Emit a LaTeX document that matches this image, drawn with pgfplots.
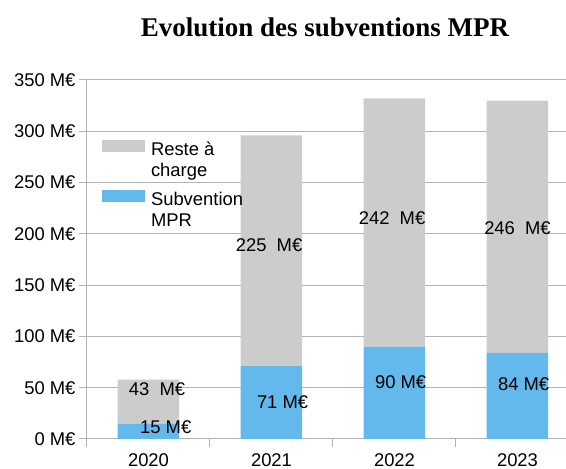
\documentclass[border=0pt]{standalone}
\usepackage{fontspec}
\setmainfont{Liberation Sans}
\newfontfamily\titlefont{Liberation Serif}
\usepackage{pgfplots}
\usepackage{pgfplotstable}
\pgfplotsset{compat=1.18}
\definecolor{mprblue}{HTML}{63B8EC}
\definecolor{restegray}{HTML}{CCCCCC}
\definecolor{gridgray}{HTML}{B3B3B3}

\pgfplotstableread{
x sub reste
0 15 43
1 71 225
2 90 242
3 84 246
}\datatable

\pgfplotstableread[col sep=comma]{
x,y,label
0.07,48.7,43~~M€
0.14,11.7,15~M€
0.98,189,225~~M€
1.09,36,71~M€
1.98,215.5,242~~M€
2.05,55.6,90~M€
3.00,205.7,246~~M€
3.05,53.6,84~M€
}\labeltable

\newcommand{\lblfont}{\fontsize{18.4}{21}\selectfont}

\begin{document}
\begin{tikzpicture}[x=1pt,y=1pt]
\begin{axis}[
  at={(0,0)}, anchor=south west,
  scale only axis, width=492pt, height=359pt,
  xmin=-0.5, xmax=3.5, ymin=0, ymax=350,
  ybar stacked, bar width=0.5,
  axis x line*=bottom, axis y line*=left,
  axis line style={gridgray, line width=1pt, -},
  ymajorgrids, major grid style={gridgray, line width=1pt},
  tick align=outside,
  major tick length=8pt,
  tick style={gridgray, line width=1pt},
  ytick={0,50,...,350},
  yticklabels={0 M€,50 M€,100 M€,150 M€,200 M€,250 M€,300 M€,350 M€},
  xtick={-0.5,0.5,1.5,2.5,3.5},
  xticklabels={},
  extra x ticks={0,1,2,3},
  extra x tick labels={2020,2021,2022,2023},
  extra x tick style={major tick length=0pt, xticklabel style={yshift=-11pt}},
  every tick label/.append style={font=\lblfont, text=black},
  reverse legend,
  legend style={draw=none, fill=none, inner sep=0pt, outer sep=0pt,
    at={(rel axis cs:0.0305,0.8329)}, anchor=north west,
    font=\lblfont, row sep=12pt, column sep=6pt,
    nodes={inner sep=0pt, outer sep=0pt},
    cells={anchor=north west, align=left}},
]
\addplot[fill=mprblue, draw=none,
  legend image code/.code={\fill[mprblue] (0pt,-10pt) rectangle (43pt,2pt);}]
  table[x=x, y=sub] {\datatable};
\addlegendentry{Subvention\\MPR}
\addplot[fill=restegray, draw=none,
  legend image code/.code={\fill[restegray] (0pt,-10pt) rectangle (43pt,2pt);}]
  table[x=x, y=reste] {\datatable};
\addlegendentry{Reste à\\charge}
\end{axis}
\begin{axis}[
  at={(0,0)}, anchor=south west,
  scale only axis, width=492pt, height=359pt,
  xmin=-0.5, xmax=3.5, ymin=0, ymax=350,
  hide axis,
]
\addplot[only marks, mark=none, nodes near coords, point meta=explicit symbolic,
  every node near coord/.append style={font=\lblfont, anchor=center, inner sep=0pt, text=black}]
  table[x=x, y=y, meta=label] {\labeltable};
\end{axis}
\node[font=\titlefont\bfseries\fontsize{27}{32}\selectfont, anchor=base] at (238,402.3) {Evolution des subventions MPR};
\pgfresetboundingbox
\path[use as bounding box] (-87,-30) rectangle (479,439);
\end{tikzpicture}
\end{document}
